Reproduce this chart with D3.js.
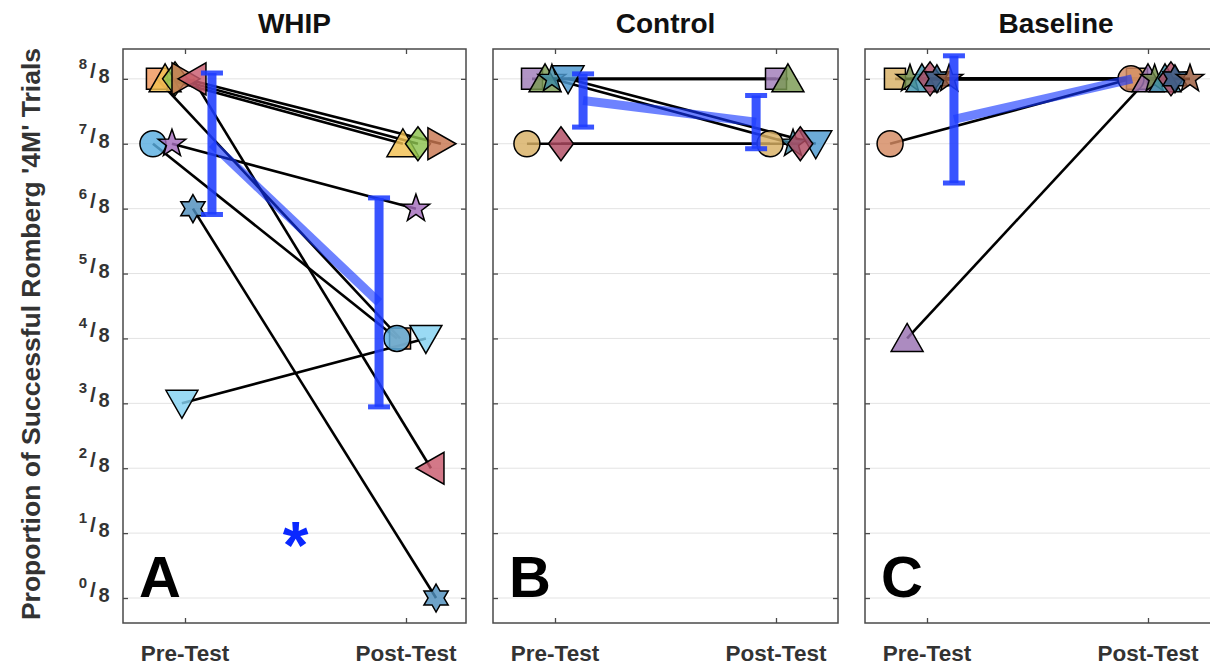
<!DOCTYPE html>
<html><head><meta charset="utf-8">
<script src="https://cdn.jsdelivr.net/npm/d3@7"></script>
<style>html,body{margin:0;padding:0;background:#fff;overflow:hidden;}svg{display:block;font-family:"Liberation Sans",Arial,Helvetica,sans-serif;}</style>
</head><body>
<svg id="chart" width="1210" height="667"></svg>
<script>
// ---------------- DATA ----------------
const panelTitles = ["WHIP", "Control", "Baseline"];
const panelLetters = ["A", "B", "C"];
const xCategories = ["Pre-Test", "Post-Test"];
const yTickValues = [0, 1, 2, 3, 4, 5, 6, 7, 8];
const yTickDenominator = "8";
const yAxisLabel = "Proportion of Successful Romberg '4M' Trials";

// WHIP (A) subjects — values in eighths
const whipShapes = ["square", "triUp", "diamond", "triRight", "triLeft", "circle", "pentagram", "hexagram", "triDown"];
const whipColors = ["#f0965a", "#f2c050", "#8cc24e", "#c87650", "#c95a6e", "#5aaee0", "#a46cbc", "#4e8fbd", "#84d2f2"];
const whipPre = [8, 8, 8, 8, 8, 7, 7, 6, 3];
const whipPost = [4, 7, 7, 7, 2, 4, 6, 0, 4];
const whipPreJitter = [-0.127, -0.09, -0.045, 0.0, 0.036, -0.145, -0.059, 0.036, -0.014];
const whipPostJitter = [-0.027, -0.014, 0.054, 0.158, 0.113, -0.041, 0.045, 0.136, 0.09];
const whipErr = [1.09, 1.61];

// Control (B)
const controlShapes = ["square", "triUp", "pentagram", "triDown", "circle", "diamond"];
const controlColors = ["#a07cb8", "#7a9a52", "#3f8aa4", "#4c98cf", "#d8b064", "#b04a62"];
const controlPre = [8, 8, 8, 8, 7, 7];
const controlPost = [8, 8, 7, 7, 7, 7];
const controlPreJitter = [-0.104, -0.045, -0.014, 0.059, -0.127, 0.027];
const controlPostJitter = [0.0, 0.054, 0.077, 0.18, -0.027, 0.11];
const controlErr = [0.41, 0.41];

// Baseline (C)
const baselineShapes = ["square", "circle", "triUp", "pentagram", "triUp", "diamond", "hexagram", "pentagram"];
const baselineColors = ["#d8b064", "#d48a62", "#9a72b2", "#6f8a46", "#3f93ac", "#b24e66", "#2f5f8a", "#9a5a3c"];
const baselinePre = [8, 7, 4, 8, 8, 8, 8, 8];
const baselinePost = [8, 8, 8, 8, 8, 8, 8, 8];
const baselinePreJitter = [-0.145, -0.167, -0.09, -0.077, -0.023, 0.014, 0.045, 0.1];
const baselinePostJitter = [-0.05, -0.077, 0.0, 0.03, 0.077, 0.104, 0.122, 0.19];
const baselineErr = [0.98, 0.0];

const meanJitter = [[0.122, -0.122], [0.127, -0.09], [0.122, -0.072]];

// ---------------- LAYOUT ----------------
const panelLefts = [123, 493, 865];
const panelWidths = [343, 345, 382];
const tickInset = 62, tickSpan = 221;
const plotTop = 49, plotBottom = 623;

const panels = [
  {shapes: whipShapes, colors: whipColors, pre: whipPre, post: whipPost, pj: whipPreJitter, qj: whipPostJitter, err: whipErr},
  {shapes: controlShapes, colors: controlColors, pre: controlPre, post: controlPost, pj: controlPreJitter, qj: controlPostJitter, err: controlErr},
  {shapes: baselineShapes, colors: baselineColors, pre: baselinePre, post: baselinePost, pj: baselinePreJitter, qj: baselinePostJitter, err: baselineErr}
];

const svg = d3.select("#chart");
const y = d3.scaleLinear().domain([-0.385, 8.46]).range([plotBottom, plotTop]);

function poly(pts) { return "M" + pts.map(p => p[0].toFixed(2) + "," + p[1].toFixed(2)).join("L") + "Z"; }
function star(n, ro, ri) {
  const pts = [];
  for (let i = 0; i < 2 * n; i++) {
    const a = -Math.PI / 2 + i * Math.PI / n;
    const r = i % 2 === 0 ? ro : ri;
    pts.push([r * Math.cos(a), r * Math.sin(a)]);
  }
  return poly(pts);
}
function markerPath(shape) {
  switch (shape) {
    case "square": return poly([[-10.5, -10.5], [10.5, -10.5], [10.5, 10.5], [-10.5, 10.5]]);
    case "circle": return d3.symbol(d3.symbolCircle, Math.PI * 13 * 13)();
    case "triUp": return poly([[0, -15], [16, 13], [-16, 13]]);
    case "triDown": return poly([[0, 15], [16, -13], [-16, -13]]);
    case "triLeft": return poly([[-15, 0], [13, -16], [13, 16]]);
    case "triRight": return poly([[15, 0], [-13, -16], [-13, 16]]);
    case "diamond": return poly([[0, -17], [12.5, 0], [0, 17], [-12.5, 0]]);
    case "pentagram": return star(5, 14.5, 5.8);
    case "hexagram": return star(6, 14, 8);
  }
}

const axisColor = "#4a4a4a";
const labelColor = "#333";

panels.forEach((p, k) => {
  const left = panelLefts[k], W = panelWidths[k];
  const x = d3.scaleLinear().domain([1, 2]).range([left + tickInset, left + tickInset + tickSpan]);
  const g = svg.append("g");

  g.selectAll(".grid").data(yTickValues).join("line")
    .attr("x1", left).attr("x2", left + W)
    .attr("y1", d => y(d)).attr("y2", d => y(d))
    .attr("stroke", "#e3e3e3").attr("stroke-width", 1);

  const yl = g.append("g").attr("transform", `translate(${left},0)`)
    .call(d3.axisRight(y).tickValues(yTickValues).tickSize(5).tickFormat(""));
  const yr = g.append("g").attr("transform", `translate(${left + W},0)`)
    .call(d3.axisLeft(y).tickValues(yTickValues).tickSize(5).tickFormat(""));
  const xb = g.append("g").attr("transform", `translate(0,${plotBottom})`)
    .call(d3.axisTop(x).tickValues([1, 2]).tickSize(5).tickFormat(""));
  const xt = g.append("g").attr("transform", `translate(0,${plotTop})`)
    .call(d3.axisBottom(x).tickValues([1, 2]).tickSize(5).tickFormat(""));
  [yl, yr, xb, xt].forEach(a => {
    a.select(".domain").remove();
    a.selectAll("line").attr("stroke", axisColor).attr("stroke-width", 1.3);
  });
  g.append("rect").attr("x", left).attr("y", plotTop).attr("width", W).attr("height", plotBottom - plotTop)
    .attr("fill", "none").attr("stroke", axisColor).attr("stroke-width", 1.5);

  g.selectAll(".xl").data(xCategories).join("text")
    .attr("x", (d, i) => x(i + 1)).attr("y", 661)
    .attr("text-anchor", "middle").attr("font-size", 22.5).attr("font-weight", "bold")
    .attr("fill", labelColor).text(d => d);

  g.append("text").attr("x", left + W / 2).attr("y", 33)
    .attr("text-anchor", "middle").attr("font-size", 28).attr("font-weight", "bold")
    .attr("fill", "#111").text(panelTitles[k]);

  const subj = p.pre.map((v, i) => ({pre: v, post: p.post[i], pj: p.pj[i], qj: p.qj[i], shape: p.shapes[i], color: p.colors[i]}));

  g.selectAll(".sl").data(subj).join("line")
    .attr("x1", d => x(1 + d.pj)).attr("y1", d => y(d.pre))
    .attr("x2", d => x(2 + d.qj)).attr("y2", d => y(d.post))
    .attr("stroke", "#000").attr("stroke-width", 2.6);

  const pts = [];
  subj.forEach(d => { pts.push({cx: x(1 + d.pj), cy: y(d.pre), shape: d.shape, color: d.color}); });
  subj.forEach(d => { pts.push({cx: x(2 + d.qj), cy: y(d.post), shape: d.shape, color: d.color}); });
  g.selectAll(".mk").data(pts).join("path")
    .attr("transform", d => `translate(${d.cx},${d.cy})`)
    .attr("d", d => markerPath(d.shape))
    .attr("fill", d => d.color).attr("fill-opacity", 0.82)
    .attr("stroke", "#000").attr("stroke-width", 1.5).attr("stroke-linejoin", "miter");

  const means = [d3.mean(p.pre), d3.mean(p.post)];
  const mx = [x(1 + meanJitter[k][0]), x(2 + meanJitter[k][1])];
  g.append("line").attr("x1", mx[0]).attr("y1", y(means[0])).attr("x2", mx[1]).attr("y2", y(means[1]))
    .attr("stroke", "#1436ff").attr("stroke-opacity", 0.62).attr("stroke-width", 9);
  means.forEach((m, i) => {
    const e = p.err[i];
    if (e <= 0) return;
    const top = y(m + e), bot = y(m - e);
    const eb = g.append("g").attr("fill", "#1e3cff").attr("fill-opacity", 0.88);
    eb.append("rect").attr("x", mx[i] - 4.5).attr("y", top).attr("width", 9).attr("height", bot - top);
    eb.append("rect").attr("x", mx[i] - 11).attr("y", top - 2.5).attr("width", 22).attr("height", 5);
    eb.append("rect").attr("x", mx[i] - 11).attr("y", bot - 2.5).attr("width", 22).attr("height", 5);
  });

  g.append("text").attr("x", left + 16).attr("y", 597)
    .attr("font-size", 58).attr("font-weight", "bold").attr("fill", "#000").text(panelLetters[k]);

  if (k === 0) {
    g.append("text").attr("x", x(1.5)).attr("y", 568).attr("text-anchor", "middle")
      .attr("font-size", 66).attr("font-weight", "bold").attr("fill", "#0a28ff").text("*");
  }
});

// y tick labels (fractions)
const yt = svg.append("g").attr("font-weight", "bold").attr("fill", labelColor).attr("text-anchor", "middle");
yTickValues.forEach(v => {
  const gy = y(v);
  yt.append("text").attr("x", 83).attr("y", gy - 10).attr("font-size", 15).text(String(v));
  yt.append("text").attr("x", 93).attr("y", gy - 1).attr("font-size", 21).text("/");
  yt.append("text").attr("x", 104).attr("y", gy + 4).attr("font-size", 20).text(yTickDenominator);
});

// y axis label
svg.append("text").attr("transform", `translate(40,${(plotTop + plotBottom) / 2 - 2}) rotate(-90)`)
  .attr("text-anchor", "middle").attr("font-size", 26.5).attr("font-weight", "bold")
  .attr("fill", labelColor).text(yAxisLabel);
</script>
</body></html>
